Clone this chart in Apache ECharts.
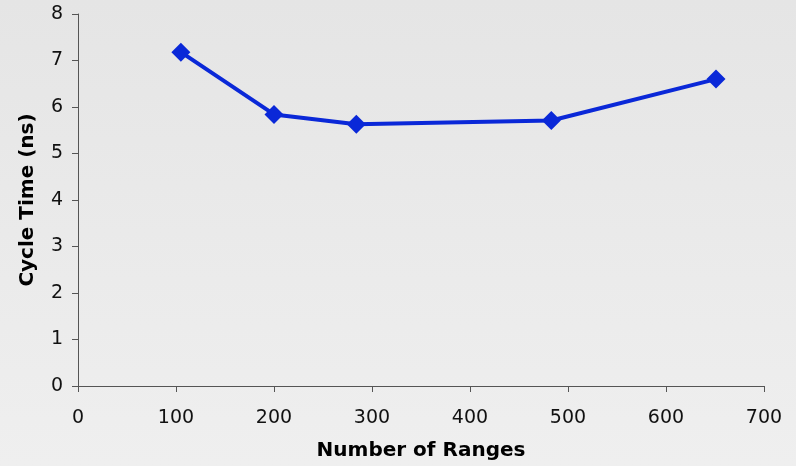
<!DOCTYPE html>
<html><head><meta charset="utf-8">
<script src="https://cdn.jsdelivr.net/npm/echarts@6/dist/echarts.min.js"></script>
<style>html,body{margin:0;padding:0;}#c{width:796px;height:466px;}</style>
</head><body><div id="c"></div>
<script>
const ranges = [105, 200, 284, 483, 651];
const cycleTime = [7.18, 5.84, 5.63, 5.71, 6.60];
const xTitle = 'Number of Ranges';
const yTitle = 'Cycle Time (ns)';

const chart = echarts.init(document.getElementById('c'));
const font = 'DejaVu Sans';
chart.setOption({
  animation: false,
  backgroundColor: new echarts.graphic.LinearGradient(0, 0, 0, 1, [
    {offset: 0, color: '#e5e5e5'}, {offset: 1, color: '#efefef'}
  ]),
  grid: {left: 78, right: 32, top: 14, bottom: 80},
  xAxis: {
    type: 'value', min: 0, max: 700, interval: 100,
    name: xTitle, nameLocation: 'middle', nameGap: 55,
    nameTextStyle: {fontFamily: font, fontWeight: 'bold', fontSize: 20, color: '#000'},
    axisLine: {lineStyle: {color: '#555', width: 1}},
    axisTick: {show: true, length: 6, lineStyle: {color: '#555'}},
    axisLabel: {fontFamily: font, fontSize: 19, color: '#111', margin: 23},
    splitLine: {show: false}
  },
  yAxis: {
    type: 'value', min: 0, max: 8, interval: 1,
    name: yTitle, nameLocation: 'middle', nameGap: 40,
    nameTextStyle: {fontFamily: font, fontWeight: 'bold', fontSize: 20, color: '#000'},
    axisLine: {show: true, lineStyle: {color: '#555', width: 1}},
    axisTick: {show: true, length: 6, lineStyle: {color: '#555'}},
    axisLabel: {fontFamily: font, fontSize: 19, color: '#111', margin: 15},
    splitLine: {show: false}
  },
  series: [{
    type: 'line',
    data: ranges.map((x, i) => [x, cycleTime[i]]),
    symbol: 'diamond', symbolSize: 19,
    lineStyle: {color: '#0a28d8', width: 4},
    itemStyle: {color: '#0a28d8'}
  }]
});
</script></body></html>
